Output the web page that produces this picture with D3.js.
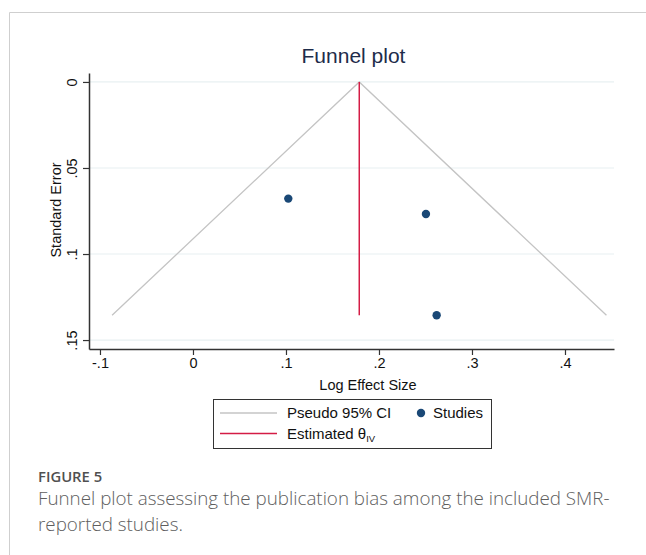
<!DOCTYPE html>
<html>
<head>
<meta charset="utf-8">
<script src="https://cdn.jsdelivr.net/npm/d3@7"></script>
<style>
  html, body { margin: 0; padding: 0; background: #fff; }
  svg { display: block; }
</style>
</head>
<body>
<svg id="chart" width="646" height="555"></svg>
<script>
// ---- data ----
const studyEffect = [0.1025, 0.2505, 0.262];
const studySE = [0.0678, 0.0767, 0.1356];
const thetaIV = 0.1788;
const xTickValues = [-0.1, 0, 0.1, 0.2, 0.3, 0.4];
const xTickLabels = ["-.1", "0", ".1", ".2", ".3", ".4"];
const yTickValues = [0, 0.05, 0.1, 0.15];
const yTickLabels = ["0", ".05", ".1", ".15"];
const xDomain = [-0.1118, 0.4527];
const yDomain = [-0.0052, 0.1552];

const svg = d3.select("#chart");
const font = "Liberation Sans, Arial, sans-serif";

// frame
svg.append("line").attr("x1", 9.5).attr("x2", 646).attr("y1", 12.5).attr("y2", 12.5)
  .attr("stroke", "#cfcfcf").attr("stroke-width", 1);
svg.append("line").attr("x1", 9.5).attr("x2", 9.5).attr("y1", 12.5).attr("y2", 555)
  .attr("stroke", "#cfcfcf").attr("stroke-width", 1);

const x = d3.scaleLinear().domain(xDomain).range([89, 614]);
const y = d3.scaleLinear().domain(yDomain).range([73, 349]);

// gridlines
svg.append("g").selectAll("line").data(yTickValues).join("line")
  .attr("x1", 90).attr("x2", 614)
  .attr("y1", d => y(d)).attr("y2", d => y(d))
  .attr("stroke", "#e8f0f2").attr("stroke-width", 1.2);

// funnel
const seMax = d3.max(studySE);
const funnel = [[thetaIV - 1.96 * seMax, seMax], [thetaIV, 0], [thetaIV + 1.96 * seMax, seMax]];
svg.append("path")
  .attr("d", d3.line().x(d => x(d[0])).y(d => y(d[1]))(funnel))
  .attr("fill", "none").attr("stroke", "#c4c4c4").attr("stroke-width", 1.3);

// estimated theta line
svg.append("line")
  .attr("x1", x(thetaIV)).attr("x2", x(thetaIV))
  .attr("y1", y(0)).attr("y2", y(seMax))
  .attr("stroke", "#d41c45").attr("stroke-width", 1.5);

// studies
svg.append("g").selectAll("circle").data(studyEffect.map((e, i) => [e, studySE[i]])).join("circle")
  .attr("cx", d => x(d[0])).attr("cy", d => y(d[1])).attr("r", 4.2)
  .attr("fill", "#1a4876");

// axes
const xAxis = d3.axisBottom(x).tickValues(xTickValues)
  .tickFormat((d, i) => xTickLabels[i]).tickSize(6).tickSizeOuter(0).tickPadding(3);
const gx = svg.append("g").attr("transform", "translate(0,349)").call(xAxis);
gx.select(".domain").attr("stroke", "#333").attr("stroke-width", 1.5);
gx.selectAll(".tick line").attr("stroke", "#333").attr("stroke-width", 1.2);
gx.selectAll(".tick text").attr("font-family", font).attr("font-size", 14.5).attr("fill", "#111");

const yAxis = d3.axisLeft(y).tickValues(yTickValues)
  .tickFormat((d, i) => yTickLabels[i]).tickSize(6).tickSizeOuter(0);
const gy = svg.append("g").attr("transform", "translate(89,0)").call(yAxis);
gy.select(".domain").attr("stroke", "#333").attr("stroke-width", 1.5);
gy.selectAll(".tick line").attr("stroke", "#333").attr("stroke-width", 1.2);
gy.selectAll(".tick text")
  .attr("font-family", font).attr("font-size", 14.5).attr("fill", "#111")
  .attr("x", null).attr("dy", null)
  .attr("text-anchor", "middle")
  .attr("transform", "translate(-12.5,0) rotate(-90)");

// title
svg.append("text").attr("x", 353.5).attr("y", 63).attr("text-anchor", "middle")
  .attr("font-family", font).attr("font-size", 21).attr("fill", "#1e2c4a").text("Funnel plot");

// axis titles
svg.append("text").attr("x", 368).attr("y", 390).attr("text-anchor", "middle")
  .attr("font-family", font).attr("font-size", 14.5).attr("fill", "#111").text("Log Effect Size");
svg.append("text").attr("transform", "translate(60.5,210) rotate(-90)").attr("text-anchor", "middle")
  .attr("font-family", font).attr("font-size", 14.5).attr("fill", "#111").text("Standard Error");

// legend
const lg = svg.append("g");
lg.append("rect").attr("x", 213.5).attr("y", 399.5).attr("width", 278).attr("height", 49)
  .attr("fill", "#fff").attr("stroke", "#333").attr("stroke-width", 1);
lg.append("line").attr("x1", 220).attr("x2", 277).attr("y1", 413).attr("y2", 413)
  .attr("stroke", "#c4c4c4").attr("stroke-width", 1.3);
lg.append("text").attr("x", 287).attr("y", 418).attr("font-family", font).attr("font-size", 15)
  .attr("fill", "#111").text("Pseudo 95% CI");
lg.append("circle").attr("cx", 421).attr("cy", 413).attr("r", 4.2).attr("fill", "#1a4876");
lg.append("text").attr("x", 433).attr("y", 418).attr("font-family", font).attr("font-size", 15)
  .attr("fill", "#111").text("Studies");
lg.append("line").attr("x1", 220).attr("x2", 277).attr("y1", 433.5).attr("y2", 433.5)
  .attr("stroke", "#d41c45").attr("stroke-width", 1.5);
const est = lg.append("text").attr("x", 287).attr("y", 439).attr("font-family", font)
  .attr("font-size", 15).attr("fill", "#111");
est.append("tspan").text("Estimated θ");
est.append("tspan").attr("font-size", 9.5).attr("dy", 3).text("IV");

// caption
svg.append("text").attr("x", 38).attr("y", 482).attr("font-family", "Open Sans, sans-serif")
  .attr("font-size", 14.8).attr("font-weight", 600).attr("fill", "#505050").text("FIGURE 5");
svg.append("text").attr("x", 38).attr("y", 505).attr("font-family", "Open Sans, sans-serif")
  .attr("font-size", 18.8).attr("font-weight", 300).attr("fill", "#5e5e5e")
  .text("Funnel plot assessing the publication bias among the included SMR-");
svg.append("text").attr("x", 38).attr("y", 531).attr("font-family", "Open Sans, sans-serif")
  .attr("font-size", 18.8).attr("font-weight", 300).attr("fill", "#5e5e5e")
  .text("reported studies.");
</script>
</body>
</html>
